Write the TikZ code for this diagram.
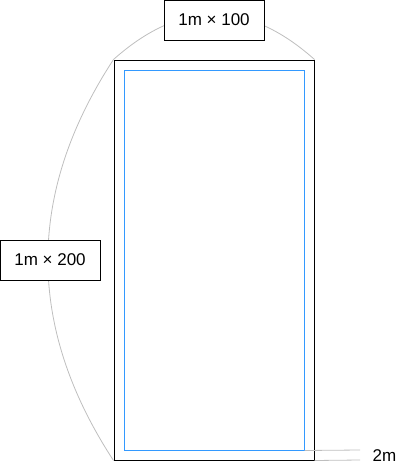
\documentclass[tikz,border=0pt]{standalone}
\usepackage{fontspec}
\setmainfont{Liberation Sans}
\definecolor{bluel}{RGB}{51,153,255}
\definecolor{grayl}{RGB}{190,190,190}
\begin{document}
\begin{tikzpicture}[x=1pt,y=-1pt,
  frame/.style={draw=black,line width=1pt,minimum width=200pt,minimum height=400pt,inner sep=0pt},
  innerframe/.style={draw=bluel,line width=1pt,minimum width=180pt,minimum height=380pt,inner sep=0pt},
  labelbox/.style={draw=black,fill=white,line width=1pt,minimum width=100pt,minimum height=40pt,inner sep=0pt,font=\fontsize{17}{20}\selectfont},
  dimline/.style={draw=grayl,line width=0.8pt},
  plainlabel/.style={font=\fontsize{17}{20}\selectfont,inner sep=0pt}]
\useasboundingbox (0,0) rectangle (411,471);
\node[frame] (outer) at (214,260) {};
\node[innerframe] (inner) at (214,260) {};
\coordinate (e1) at (360,450);
\coordinate (e2) at (360,460);
\draw[dimline] (outer.north west) .. controls (180.7,-0.5) and (247.3,-0.5) .. (outer.north east);
\draw[dimline] (outer.north west) .. controls (26,193.3) and (26,326.7) .. (outer.south west);
\draw[dimline] (inner.south east) -- (e1);
\draw[dimline] (outer.south east) -- (e2);
\node[labelbox] (top) at (214,20) {1m × 100};
\node[labelbox] (left) at (50,260) {1m × 200};
\node[plainlabel] (two) at (384.5,456) {2m};
\end{tikzpicture}
\end{document}
